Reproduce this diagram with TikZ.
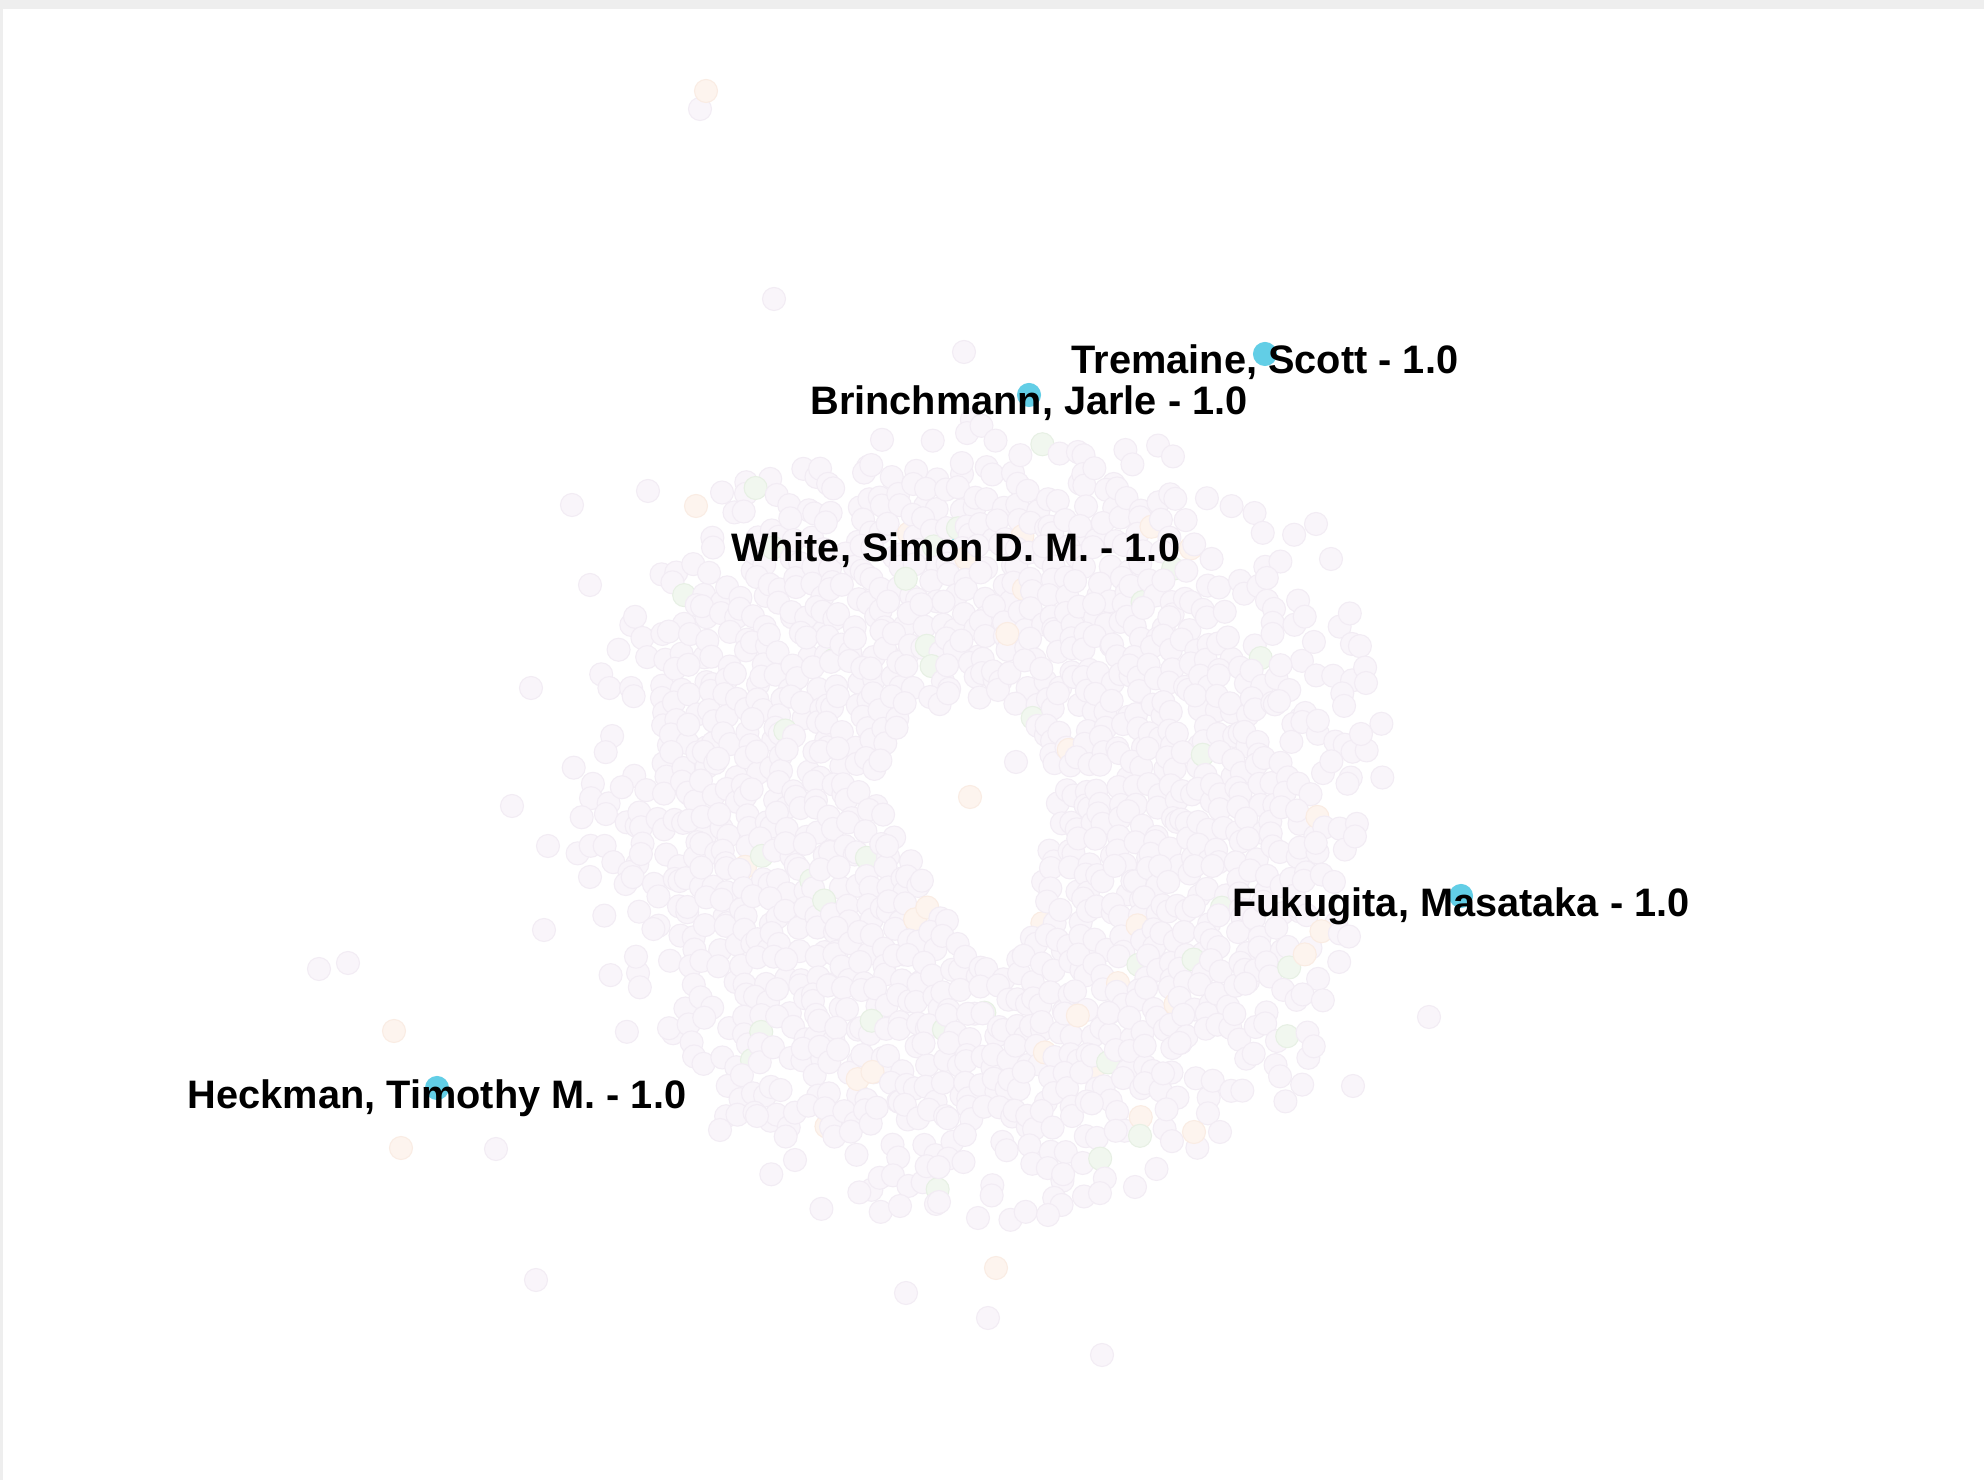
\documentclass[tikz,border=0pt]{standalone}
\usepackage{fontspec}
\setmainfont{Liberation Sans}
\usepackage{xcolor}
\definecolor{nodelav}{RGB}{249,245,250}
\definecolor{nodelavline}{RGB}{242,236,244}
\definecolor{nodepeach}{RGB}{253,244,238}
\definecolor{nodepeachline}{RGB}{250,236,227}
\definecolor{nodegreen}{RGB}{241,247,239}
\definecolor{nodegreenline}{RGB}{231,240,228}
\definecolor{nodecyan}{RGB}{98,206,230}
\definecolor{framegray}{RGB}{238,238,238}
\usetikzlibrary{positioning}

\tikzset{
  author/.style={circle, fill=nodelav, draw=nodelavline, line width=0.3pt, minimum size=0.23cm, inner sep=0pt},
  authorpeach/.style={author, fill=nodepeach, draw=nodepeachline},
  authorgreen/.style={author, fill=nodegreen, draw=nodegreenline},
  hub/.style={author, fill=nodecyan, draw=nodecyan},
  namelbl/.style={font=\fontsize{11.3}{13}\selectfont\bfseries, anchor=base, inner sep=0pt}
}

\begin{document}
\begin{tikzpicture}[x=0.01cm, y=-0.01cm]
  \useasboundingbox (0,0) rectangle (1984,1480);
  \fill[white] (0,0) rectangle (1984,1480);
  \fill[framegray] (0,0) rectangle (1984,9);
  \fill[framegray] (0,9) rectangle (3,1480);

  % hidden hub, mostly under the cloud
  \node[hub] (white) at (964,542) {};

  % main cloud of co-authors
  \pgfmathsetseed{42}
  \foreach \i in {-24,...,24}{
    \foreach \j in {-27,...,27}{
      \pgfmathsetmacro{\px}{980+17*\i+8.5*abs(mod(\j,2))+8*rand}
      \pgfmathsetmacro{\py}{815+14.7*\j+8*rand}
      \pgfmathsetmacro{\rr}{veclen(\px-980,\py-815)}
      \pgfmathsetmacro{\keep}{(rnd<(430-\rr)/140) && (veclen(\px-968,\py-787)>87) && (veclen(\px-978,\py-858)>60) && (veclen(\px-988,\py-896)>46) && (veclen(\px-996,\py-926)>34)}
      \pgfmathsetmacro{\cc}{rnd}
      \ifdim\keep pt>0.5pt
        \ifdim\cc pt<0.02pt \node[authorgreen] at (\px,\py) {};
        \else\ifdim\cc pt<0.035pt \node[authorpeach] at (\px,\py) {};
        \else \node[author] at (\px,\py) {};
        \fi\fi
      \fi
    }
  }

  % inside the hole
  \node[authorpeach] (holea) at (970,797) {};
  \node[author] (holeb) at (1016,762) {};

  % loose co-authors
  \foreach \x/\y in {700/109, 774/299, 964/352, 572/505, 648/491, 590/585, 531/688, 512/806,
    548/846, 544/930, 590/877, 319/969, 348/963, 496/1149, 536/1280, 906/1293, 988/1318,
    1102/1355, 1429/1017, 1353/1086, 1316/524, 1331/559, 1361/734, 1366/683, 1220/1132,
    1135/1187, 1048/1215, 978/1218, 939/1202, 900/1206, 757/1116, 720/1130, 795/1160}
    \node[author] at (\x,\y) {};
  \foreach \x/\y in {706/91, 696/506, 394/1031, 401/1148, 996/1268, 1194/1132}
    \node[authorpeach] at (\x,\y) {};

  % labelled hubs
  \node[hub] (tremaine) at (1265,354) {};
  \node[hub] (brinchmann) at (1029,395) {};
  \node[hub] (fukugita) at (1461,896) {};
  \node[hub] (heckman) at (437,1088) {};

  \node[namelbl] (tremainelbl) at ([yshift=-0.2cm]tremaine) {Tremaine, Scott - 1.0};
  \node[namelbl] (brinchmannlbl) at ([yshift=-0.2cm]brinchmann) {Brinchmann, Jarle - 1.0};
  \node[namelbl] (whitelbl) at ([xshift=-0.08cm, yshift=-0.2cm]white) {White, Simon D. M. - 1.0};
  \node[namelbl] (fukugitalbl) at ([yshift=-0.2cm]fukugita) {Fukugita, Masataka - 1.0};
  \node[namelbl] (heckmanlbl) at ([yshift=-0.2cm]heckman) {Heckman, Timothy M. - 1.0};
\end{tikzpicture}
\end{document}
